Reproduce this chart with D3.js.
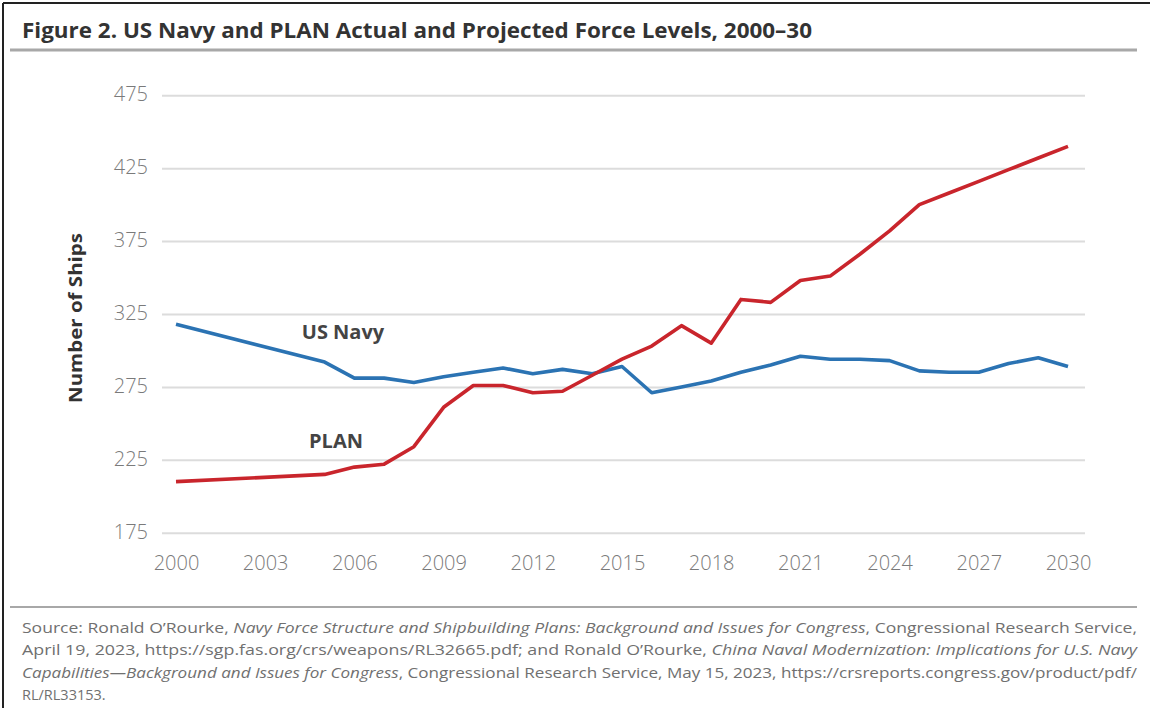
<!DOCTYPE html>
<html>
<head>
<meta charset="utf-8">
<script src="https://cdn.jsdelivr.net/npm/d3@7"></script>
<style>
  html, body { margin: 0; padding: 0; background: #fff; }
  svg { display: block; }
</style>
</head>
<body>
<svg id="chart" width="1150" height="708"></svg>
<script>
const titleText = "Figure 2. US Navy and PLAN Actual and Projected Force Levels, 2000–30";
const yAxisTitle = "Number of Ships";
const years = [2000, 2005, 2006, 2007, 2008, 2009, 2010, 2011, 2012, 2013, 2014, 2015, 2016, 2017, 2018, 2019, 2020, 2021, 2022, 2023, 2024, 2025, 2026, 2027, 2028, 2029, 2030];
const usNavy = [318, 292, 281, 281, 278, 282, 285, 288, 284, 287, 284, 289, 271, 275, 279, 285, 290, 296, 294, 294, 293, 286, 285, 285, 291, 295, 289];
const plan = [210, 215, 220, 222, 234, 261, 276, 276, 271, 272, 283, 294, 303, 317, 305, 335, 333, 348, 351, 366, 382, 400, 408, 416, 424, 432, 440];
const yTicks = [175, 225, 275, 325, 375, 425, 475];
const xTicks = [2000, 2003, 2006, 2009, 2012, 2015, 2018, 2021, 2024, 2027, 2030];
const seriesNames = ["US Navy", "PLAN"];
const sourceLines = [
  [["Source: Ronald O’Rourke, ", false], ["Navy Force Structure and Shipbuilding Plans: Background and Issues for Congress", true], [", Congressional Research Service,", false]],
  [["April 19, 2023, https://sgp.fas.org/crs/weapons/RL32665.pdf; and Ronald O’Rourke, ", false], ["China Naval Modernization: Implications for U.S. Navy", true]],
  [["Capabilities—Background and Issues for Congress", true], [", Congressional Research Service, May 15, 2023, https://crsreports.congress.gov/product/pdf/", false]],
  [["RL/RL33153.", false]]
];

const svg = d3.select("#chart");
const font = "'Open Sans', 'Noto Sans', sans-serif";

// frame lines
svg.append("line").attr("x1", 3).attr("x2", 1150).attr("y1", 3).attr("y2", 3).attr("stroke", "#222").attr("stroke-width", 2);
svg.append("line").attr("x1", 3).attr("x2", 3).attr("y1", 3).attr("y2", 708).attr("stroke", "#222").attr("stroke-width", 2);

// title
svg.append("text").attr("x", 22).attr("y", 38).text(titleText)
  .attr("font-family", font).attr("font-weight", 700).attr("font-size", 22)
  .attr("fill", "#333").attr("textLength", 790).attr("lengthAdjust", "spacingAndGlyphs");
svg.append("line").attr("x1", 10).attr("x2", 1137).attr("y1", 50).attr("y2", 50).attr("stroke", "#a8a8a8").attr("stroke-width", 3);

// scales
const x = d3.scaleLinear().domain([2000, 2030]).range([176, 1068]);
const y = d3.scaleLinear().domain([175, 475]).range([532.7, 95.3]);
const gridLeft = 162, gridRight = 1085;

// y axis with grid
const yAxis = svg.append("g").attr("transform", `translate(${gridLeft},0)`)
  .call(d3.axisLeft(y).tickValues(yTicks).tickSize(-(gridRight - gridLeft)).tickPadding(14).tickFormat(d3.format("d")));
yAxis.select(".domain").remove();
yAxis.selectAll(".tick line").attr("stroke", "#dcdcdc").attr("stroke-width", 2);
yAxis.selectAll(".tick text").attr("font-family", font).attr("font-size", 20).attr("fill", "#7a7a7a").attr("font-weight", 300).attr("dy", "0.28em");

// x axis
const xAxis = svg.append("g").attr("transform", `translate(0,550)`)
  .call(d3.axisBottom(x).tickValues(xTicks).tickSize(0).tickPadding(6).tickFormat(d3.format("d")));
xAxis.select(".domain").remove();
xAxis.selectAll(".tick text").attr("font-family", font).attr("font-size", 20).attr("fill", "#7a7a7a").attr("font-weight", 300);

// y axis title
svg.append("text").attr("transform", "translate(82,318) rotate(-90)")
  .attr("text-anchor", "middle").text(yAxisTitle)
  .attr("font-family", font).attr("font-weight", 700).attr("font-size", 17).attr("fill", "#333")
  .attr("textLength", 170).attr("lengthAdjust", "spacingAndGlyphs");

// lines
const line = d3.line().x((d, i) => x(years[i])).y(d => y(d));
svg.append("path").datum(usNavy).attr("d", line).attr("fill", "none")
  .attr("stroke", "#2b73b3").attr("stroke-width", 3.6).attr("stroke-linejoin", "round");
svg.append("path").datum(plan).attr("d", line).attr("fill", "none")
  .attr("stroke", "#c9252c").attr("stroke-width", 3.6).attr("stroke-linejoin", "round");

// series labels
svg.append("text").attr("x", 343).attr("y", 339).attr("text-anchor", "middle").text(seriesNames[0])
  .attr("font-family", font).attr("font-weight", 700).attr("font-size", 20).attr("fill", "#444");
svg.append("text").attr("x", 336).attr("y", 448).attr("text-anchor", "middle").text(seriesNames[1])
  .attr("font-family", font).attr("font-weight", 700).attr("font-size", 20).attr("fill", "#444");

// source
svg.append("line").attr("x1", 10).attr("x2", 1137).attr("y1", 607).attr("y2", 607).attr("stroke", "#a8a8a8").attr("stroke-width", 2);
const lineYs = [633, 655, 678, 700];
sourceLines.forEach((parts, i) => {
  const t = svg.append("text").attr("x", 22).attr("y", lineYs[i])
    .attr("font-family", font).attr("font-size", 14.5).attr("fill", "#707070");
  if (i < 3) t.attr("textLength", 1115).attr("lengthAdjust", "spacingAndGlyphs");
  parts.forEach(([s, it]) => t.append("tspan").text(s).attr("font-style", it ? "italic" : "normal"));
});
</script>
</body>
</html>
